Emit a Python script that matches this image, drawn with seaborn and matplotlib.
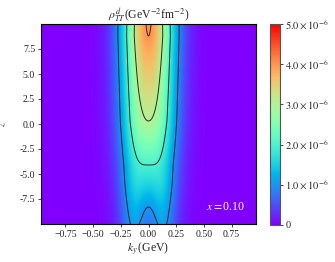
import numpy as np
import seaborn as sns
import matplotlib as mpl
import matplotlib.pyplot as plt

# values (density in units of 1e-6 GeV^-2 fm^-2)
z_knots = [-10.0, -8.3, -6.0, -4.1, 0.3, 8.8, 10.0]
center_amp = [0.75, 1.0, 1.55, 2.0, 3.0, 4.0, 4.04]   # rho at k_y = 0
hump_amp = [0.55, 0.55, 0.45, 0.3, 0.2, 0.05, 0.0]    # side lobes at low z
core_width = 0.165
hump_width = 0.106

ky_range = [-0.97, 0.97]
z_range = [-10.0, 10.0]
contour_levels = [1e-6, 2e-6, 3e-6, 4e-6]
cbar_ticks = [0, 1e-6, 2e-6, 3e-6, 4e-6, 5e-6]
cbar_labels = ["0", r"$1.0\times10^{-6}$", r"$2.0\times10^{-6}$",
               r"$3.0\times10^{-6}$", r"$4.0\times10^{-6}$", r"$5.0\times10^{-6}$"]
xticks = [-0.75, -0.5, -0.25, 0.0, 0.25, 0.5, 0.75]
yticks = [-7.5, -5.0, -2.5, 0.0, 2.5, 5.0, 7.5]
ytick_labels = ["-7.5", "-5.0", "-2.5", "0.0", "2.5", "5.0", "7.5"]
x_value = "0.10"

sns.set_theme(style="ticks")
plt.rcParams['font.family'] = ['Liberation Serif', 'DejaVu Serif']
plt.rcParams['mathtext.fontset'] = 'stix'
plt.rcParams['xtick.major.size'] = 2.2
plt.rcParams['ytick.major.size'] = 2.2
plt.rcParams['xtick.major.width'] = 0.6
plt.rcParams['ytick.major.width'] = 0.6
plt.rcParams['xtick.major.pad'] = 2
plt.rcParams['ytick.major.pad'] = 2

# build the field on a grid
ky = np.linspace(ky_range[0], ky_range[1], 400)
z = np.linspace(z_range[0], z_range[1], 400)
KY, Z = np.meshgrid(ky, z)
a = np.interp(Z, z_knots, center_amp)
b = np.interp(Z, z_knots, hump_amp)
u = KY**2 / (2 * hump_width**2)
rho = (a * np.exp(-KY**2 / (2 * core_width**2)) + b * u * np.exp(1 - u)) * 1e-6

fig = plt.figure(figsize=(3.35, 2.62), dpi=100)
ax = fig.add_axes([41/335, 38/262, 215/335, 200/262])
cax = fig.add_axes([270/335, 37/262, 9.5/335, 201/262])

cmap = sns.color_palette("rainbow", as_cmap=True)
mesh = ax.pcolormesh(KY, Z, rho, cmap=cmap, vmin=0, vmax=5e-6,
                     shading='gouraud', rasterized=True)
ax.contour(KY, Z, rho, levels=contour_levels, colors='#2a2a2a',
           linewidths=0.7)

ax.set_xlim(ky_range)
ax.set_ylim(z_range)
ax.set_xticks(xticks)
ax.set_yticks(yticks)
ax.set_yticklabels(ytick_labels)
ax.tick_params(labelsize=7, colors='#222222')
for s in ax.spines.values():
    s.set_linewidth(0.8)
    s.set_color('black')

ax.set_title(r"$\rho^{d}_{TT}$(GeV$^{-2}$fm$^{-2}$)", fontsize=8.5, pad=3)
ax.set_xlabel(r"$k_y\,$(GeV)", fontsize=8.5, labelpad=1)
ax.set_ylabel(r"$z$", fontsize=7, rotation=90)
ax.yaxis.set_label_coords(-0.155, 0.5)
ax.text(0.86, 0.085, r"$x=$" + x_value, transform=ax.transAxes,
        color='white', fontsize=8.5, ha='center', va='center')

cb = fig.colorbar(mesh, cax=cax, ticks=cbar_ticks)
cb.ax.set_yticklabels(cbar_labels)
cb.ax.tick_params(labelsize=7.5, length=2.2, width=0.6, pad=2)
cb.outline.set_edgecolor('#555555')
cb.outline.set_linewidth(0.8)

fig.savefig('out.png', dpi=100)
